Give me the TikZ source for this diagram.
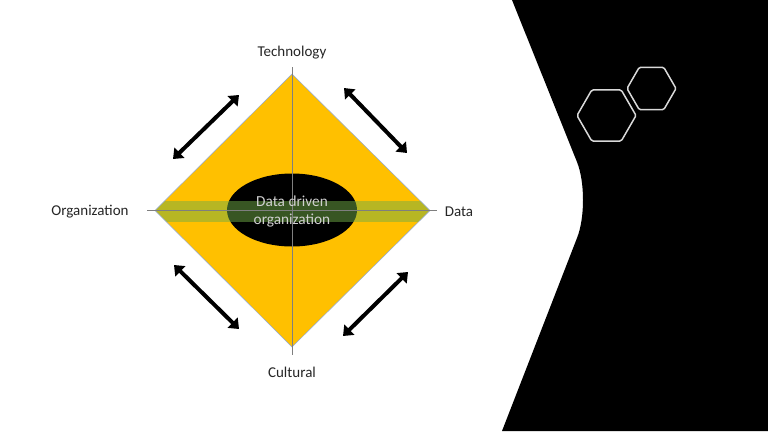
\documentclass[tikz,border=0pt]{standalone}
\usepackage{fontspec}
\setmainfont{Carlito}
\usetikzlibrary{arrows.meta,shapes.geometric}
\definecolor{diayellow}{HTML}{FFC000}
\definecolor{bandgreen}{HTML}{70AD47}
\definecolor{edgeblue}{HTML}{8FAADC}
\definecolor{axisgrey}{HTML}{7F7F7F}
\definecolor{labelgrey}{HTML}{262626}
\definecolor{hexgrey}{HTML}{D9D9D9}
\tikzset{
  lbl/.style={text=labelgrey, font=\fontsize{15}{17}\selectfont, inner sep=0pt},
  dblarrow/.style={line width=4pt, {Triangle[length=9pt,width=14pt]}-{Triangle[length=9pt,width=14pt]}, black},
  hexa/.style={draw=hexgrey, line width=1.5pt, rounded corners=1.5pt},
  axis/.style={draw=axisgrey, line width=0.6pt}
}
\begin{document}
\begin{tikzpicture}[x=1pt,y=-1pt]
\useasboundingbox (0,0) rectangle (768,431);
\fill[white] (0,0) rectangle (768,431);
% right black panel
\fill[black] (512,0) -- (768,0) -- (768,431) -- (502,431) -- (577,238)
  .. controls (585,218) and (585,182) .. (577,162) -- cycle;
% hexagons
\draw[hexa] (606.5,115.5) +(0:29.5) -- +(60:29.5) -- +(120:29.5) -- +(180:29.5) -- +(240:29.5) -- +(300:29.5) -- cycle;
\draw[hexa] (651.5,88.5) +(0:24.5) -- +(60:24.5) -- +(120:24.5) -- +(180:24.5) -- +(240:24.5) -- +(300:24.5) -- cycle;
% diamond
\coordinate (T) at (292,74);
\coordinate (L) at (155,210.5);
\coordinate (R) at (430,210.5);
\coordinate (B) at (292,347);
\fill[diayellow] (T) -- (R) -- (B) -- (L) -- cycle;
% ellipse
\node[draw=none, fill=black, ellipse, minimum width=130pt, minimum height=73pt, inner sep=0pt] (E) at (292,210) {};
% green band clipped to diamond
\begin{scope}
  \clip (T) -- (R) -- (B) -- (L) -- cycle;
  \fill[bandgreen, fill opacity=0.5] (150,201) rectangle (440,222);
\end{scope}
\draw[edgeblue, line width=0.5pt] (T) -- (R) -- (B) -- (L) -- cycle;
% axes
\coordinate (VT) at (292,67);
\coordinate (VB) at (292,355);
\coordinate (HL) at (147,210.5);
\coordinate (HR) at (437,210.5);
\draw[axis] (VT) -- (VB);
\draw[axis] (HL) -- (HR);
% center text
\node[text=white!82!black, font=\fontsize{15.3}{18}\selectfont, align=center, inner sep=0pt] (C) at (292,212) {Data driven\\organization};
% labels
\node[lbl] (tech) at (292,53) {Technology};
\node[lbl] (org) at (90,212) {Organization};
\node[lbl] (data) at (459,212) {Data};
\node[lbl] (cult) at (292,372) {Cultural};
% arrows
\coordinate (a1) at (173,159);
\coordinate (a2) at (239,95);
\coordinate (b1) at (344,88);
\coordinate (b2) at (407,153);
\coordinate (c1) at (174,265);
\coordinate (c2) at (239,329);
\coordinate (d1) at (343,336);
\coordinate (d2) at (408,272);
\draw[dblarrow] (a1) -- (a2);
\draw[dblarrow] (b1) -- (b2);
\draw[dblarrow] (c1) -- (c2);
\draw[dblarrow] (d1) -- (d2);
\end{tikzpicture}
\end{document}
